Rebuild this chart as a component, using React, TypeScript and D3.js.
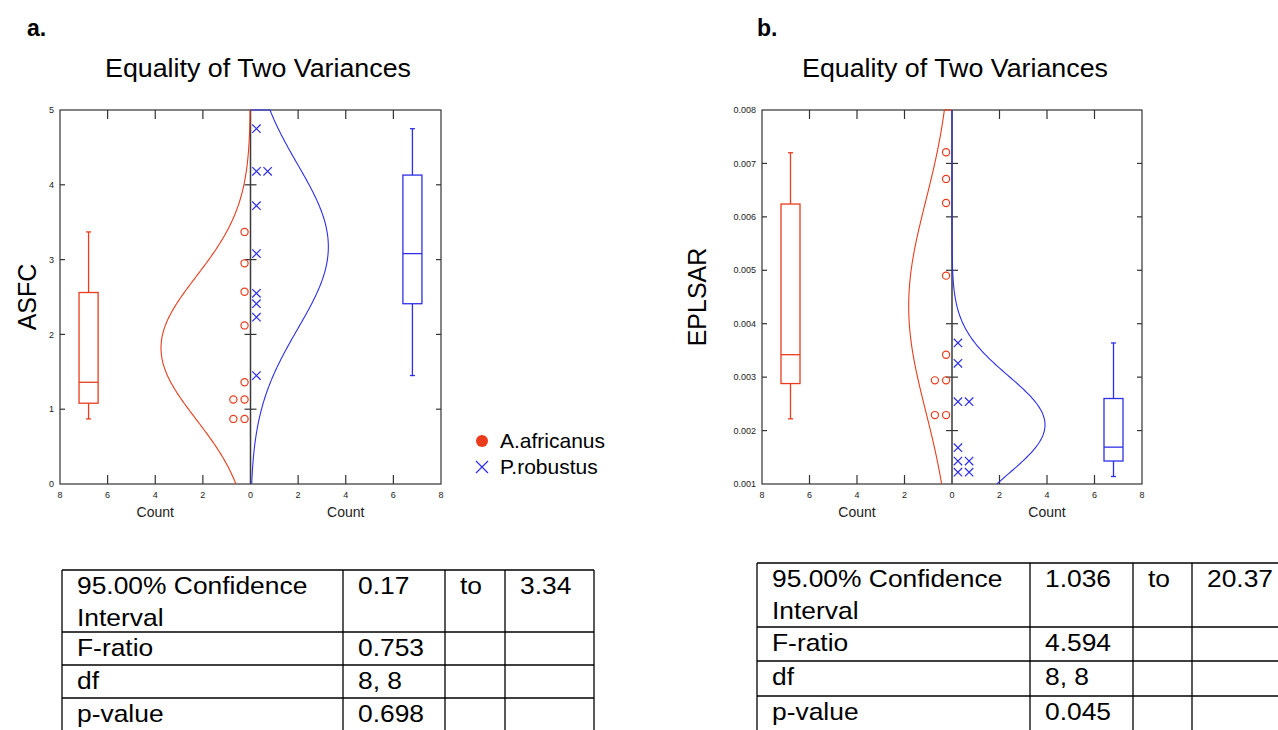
import React from 'react';
import * as d3 from 'd3';

// ASFC values (panel a)
const asfcAfricanus = [3.37, 2.95, 2.57, 2.12, 1.36, 1.13, 1.13, 0.87, 0.87];
const asfcRobustus = [4.75, 4.18, 4.18, 3.72, 3.08, 2.55, 2.41, 2.23, 1.45];
// EPLSAR values (panel b)
const eplsarAfricanus = [0.00721, 0.00671, 0.00626, 0.0049, 0.00342, 0.00294, 0.00294, 0.00229, 0.00229];
const eplsarRobustus = [0.00364, 0.00326, 0.00254, 0.00254, 0.00168, 0.00143, 0.00143, 0.00122, 0.00122];

// box stats: [whisker low, q1, median, q3, whisker high]
const asfcAfricanusBox = [0.87, 1.08, 1.36, 2.56, 3.37];
const asfcRobustusBox = [1.45, 2.41, 3.08, 4.13, 4.75];
const eplsarAfricanusBox = [0.00222, 0.00288, 0.00342, 0.00624, 0.0072];
const eplsarRobustusBox = [0.00114, 0.00143, 0.00169, 0.0026, 0.00364];

const asfcTicks = [0, 1, 2, 3, 4, 5];
const eplsarTicks = [0.001, 0.002, 0.003, 0.004, 0.005, 0.006, 0.007, 0.008];
const countTicks = [-8, -6, -4, -2, 0, 2, 4, 6, 8];

const tableLabels = [['95.00% Confidence', 'Interval'], ['F-ratio'], ['df'], ['p-value']];
const tableA = [['0.17', 'to', '3.34'], ['0.753', '', ''], ['8, 8', '', ''], ['0.698', '', '']];
const tableB = [['1.036', 'to', '20.37'], ['4.594', '', ''], ['8, 8', '', ''], ['0.045', '', '']];

const RED = '#ea3c1c';
const BLUE = '#2e2ee8';
const FONT = 'Liberation Sans, Arial, sans-serif';

const TOP = 110;
const BOTTOM = 484;

interface PanelProps {
  x0: number;
  x1: number;
  yDomain: [number, number];
  yTicks: number[];
  fmt: (v: number) => string;
  red: number[];
  blue: number[];
  redBox: number[];
  blueBox: number[];
  binWidth: number;
  yLabel: string;
  yLabelX: number;
}

const stack = (vals: number[]) => {
  const seen = new Map<number, number>();
  return vals.map(v => {
    const k = seen.get(v) || 0;
    seen.set(v, k + 1);
    return { v, k };
  });
};

const Panel = ({ x0, x1, yDomain, yTicks, fmt, red, blue, redBox, blueBox, binWidth, yLabel, yLabelX }: PanelProps) => {
  const x = d3.scaleLinear().domain([-8, 8]).range([x0, x1]);
  const y = d3.scaleLinear().domain(yDomain).range([BOTTOM, TOP]);
  const [lo, hi] = yDomain;

  // fitted normal curve, scaled to counts (n * bin width * pdf)
  const curvePath = (vals: number[], sign: number) => {
    const m = d3.mean(vals) as number;
    const s = d3.deviation(vals) as number;
    const n = vals.length;
    const f = (v: number) => (n * binWidth * Math.exp(-0.5 * ((v - m) / s) ** 2)) / (s * Math.sqrt(2 * Math.PI));
    const pts: [number, number][] = [[0, hi]];
    d3.range(0, 241).forEach(i => {
      const v = hi - ((hi - lo) * i) / 240;
      pts.push([sign * f(v), v]);
    });
    return d3.line<[number, number]>().x(p => x(p[0])).y(p => y(p[1]))(pts) || '';
  };

  const box = (b: number[], c: number, color: string) => {
    const [wl, q1, md, q3, wh] = b;
    const cx = x(c);
    const hw = x(c + 0.4) - cx;
    const cap = 2.5;
    return (
      <g stroke={color} strokeWidth={1.3} fill="none">
        <line x1={cx} x2={cx} y1={y(wh)} y2={y(q3)} />
        <line x1={cx} x2={cx} y1={y(q1)} y2={y(wl)} />
        <line x1={cx - cap} x2={cx + cap} y1={y(wh)} y2={y(wh)} />
        <line x1={cx - cap} x2={cx + cap} y1={y(wl)} y2={y(wl)} />
        <rect x={cx - hw} y={y(q3)} width={2 * hw} height={y(q1) - y(q3)} />
        <line x1={cx - hw} x2={cx + hw} y1={y(md)} y2={y(md)} />
      </g>
    );
  };

  const inner = yTicks.filter(t => t > lo && t < hi);
  const innerX = countTicks.filter(t => t !== 0 && Math.abs(t) !== 8);

  return (
    <g fontFamily={FONT}>
      {/* y tick labels */}
      {yTicks.map(t => (
        <text key={'yl' + t} x={x0 - 6} y={y(t)} dy="0.35em" textAnchor="end" fontSize={9} fill="#222">
          {fmt(t)}
        </text>
      ))}
      {countTicks.map(t => (
        <text key={'xl' + t} x={x(t)} y={BOTTOM + 14} textAnchor="middle" fontSize={9} fill="#222">
          {Math.abs(t)}
        </text>
      ))}
      <text x={x(-4)} y={BOTTOM + 33} textAnchor="middle" fontSize={14} fill="#222">Count</text>
      <text x={x(4)} y={BOTTOM + 33} textAnchor="middle" fontSize={14} fill="#222">Count</text>
      <text
        transform={`translate(${yLabelX},${(TOP + BOTTOM) / 2}) rotate(-90)`}
        textAnchor="middle"
        fontSize={25}
        fill="#000"
      >
        {yLabel}
      </text>

      {/* frame and ticks */}
      <rect x={x0} y={TOP} width={x1 - x0} height={BOTTOM - TOP} fill="none" stroke="#333" strokeWidth={1.2} />
      {innerX.map(t => (
        <g key={'xt' + t} stroke="#333" strokeWidth={1.2}>
          <line x1={x(t)} x2={x(t)} y1={TOP} y2={TOP + 9} />
          <line x1={x(t)} x2={x(t)} y1={BOTTOM} y2={BOTTOM - 9} />
        </g>
      ))}
      {inner.map(t => (
        <g key={'yt' + t} stroke="#333" strokeWidth={1.2}>
          <line x1={x0} x2={x0 + 5} y1={y(t)} y2={y(t)} />
          <line x1={x1} x2={x1 - 5} y1={y(t)} y2={y(t)} />
          <line x1={x(0) - 6} x2={x(0) + 6} y1={y(t)} y2={y(t)} />
        </g>
      ))}
      <line x1={x(0)} x2={x(0)} y1={TOP} y2={BOTTOM} stroke="#3a3a3a" strokeWidth={1.5} />

      {/* fitted curves */}
      <path d={curvePath(red, -1)} fill="none" stroke={RED} strokeWidth={1.1} />
      <path d={curvePath(blue, 1)} fill="none" stroke={BLUE} strokeWidth={1.1} />

      {/* dot plots */}
      {stack(red).map((d, i) => (
        <circle key={'r' + i} cx={x(-(0.25 + 0.47 * d.k))} cy={y(d.v)} r={3.6} fill="none" stroke={RED} strokeWidth={1.2} />
      ))}
      {stack(blue).map((d, i) => {
        const cx = x(0.25 + 0.47 * d.k);
        const cy = y(d.v);
        const h = 4.2;
        return (
          <path key={'b' + i} d={`M${cx - h},${cy - h}L${cx + h},${cy + h}M${cx - h},${cy + h}L${cx + h},${cy - h}`} stroke={BLUE} strokeWidth={1.2} />
        );
      })}

      {/* box plots */}
      {box(redBox, -6.8, RED)}
      {box(blueBox, 6.8, BLUE)}
    </g>
  );
};

const Table = ({ left, top, cols, rows, rowH, values }: { left: number; top: number; cols: number[]; rows: number[]; rowH: number[]; values: string[][] }) => {
  const edges = [left, ...cols];
  let yy = top;
  const rowTops = rowH.map(h => {
    const t = yy;
    yy += h;
    return t;
  });
  const bottom = yy;
  return (
    <g fontFamily={FONT} fontSize={24} fill="#000">
      {edges.map((e, i) => (
        <line key={'c' + i} x1={e} x2={e} y1={top} y2={bottom} stroke="#000" strokeWidth={1.3} />
      ))}
      {[...rowTops, bottom].map((t, i) => (
        <line key={'r' + i} x1={left} x2={edges[edges.length - 1]} y1={t} y2={t} stroke="#000" strokeWidth={1.3} />
      ))}
      {tableLabels.map((lab, r) =>
        lab.map((line, j) => (
          <text key={'l' + r + j} transform={`translate(${left + 15},${rowTops[r] + rows[0] + j * 32}) scale(1.1,1)`}>
            {line}
          </text>
        ))
      )}
      {values.map((row, r) =>
        row.map((v, c) => (
          <text key={'v' + r + c} transform={`translate(${edges[c + 1] + 15},${rowTops[r] + rows[0]}) scale(1.1,1)`}>
            {v}
          </text>
        ))
      )}
    </g>
  );
};

export default function App() {
  return (
    <svg width={1278} height={730} style={{ position: 'absolute', left: 0, top: 0, background: '#fff' }}>
      <rect width={1278} height={730} fill="#fff" />
      <g fontFamily={FONT}>
        <text x={27} y={36} fontSize={23} fontWeight="bold">a.</text>
        <text x={757} y={36} fontSize={23} fontWeight="bold">b.</text>
        <text x={258} y={77} fontSize={25} textAnchor="middle" textLength={306} lengthAdjust="spacingAndGlyphs">
          Equality of Two Variances
        </text>
        <text x={955} y={77} fontSize={25} textAnchor="middle" textLength={306} lengthAdjust="spacingAndGlyphs">
          Equality of Two Variances
        </text>
      </g>

      <Panel
        x0={60}
        x1={441}
        yDomain={[0, 5]}
        yTicks={asfcTicks}
        fmt={d3.format('d')}
        red={asfcAfricanus}
        blue={asfcRobustus}
        redBox={asfcAfricanusBox}
        blueBox={asfcRobustusBox}
        binWidth={1}
        yLabel="ASFC"
        yLabelX={36}
      />
      <Panel
        x0={762}
        x1={1142}
        yDomain={[0.001, 0.008]}
        yTicks={eplsarTicks}
        fmt={d3.format('.3f')}
        red={eplsarAfricanus}
        blue={eplsarRobustus}
        redBox={eplsarAfricanusBox}
        blueBox={eplsarRobustusBox}
        binWidth={0.001}
        yLabel="EPLSAR"
        yLabelX={706}
      />

      {/* legend */}
      <g fontFamily={FONT} fontSize={21}>
        <circle cx={482} cy={441} r={6} fill={RED} />
        <text x={500} y={448}>A.africanus</text>
        <path d="M476,461L488,473M476,473L488,461" stroke={BLUE} strokeWidth={1.2} />
        <text x={500} y={474}>P.robustus</text>
      </g>

      <Table left={62} top={570} cols={[343, 445, 505, 594]} rows={[24]} rowH={[62, 33, 33, 40]} values={tableA} />
      <Table left={757} top={563} cols={[1030, 1133, 1192, 1281]} rows={[24]} rowH={[64, 34, 35, 40]} values={tableB} />
    </svg>
  );
}
